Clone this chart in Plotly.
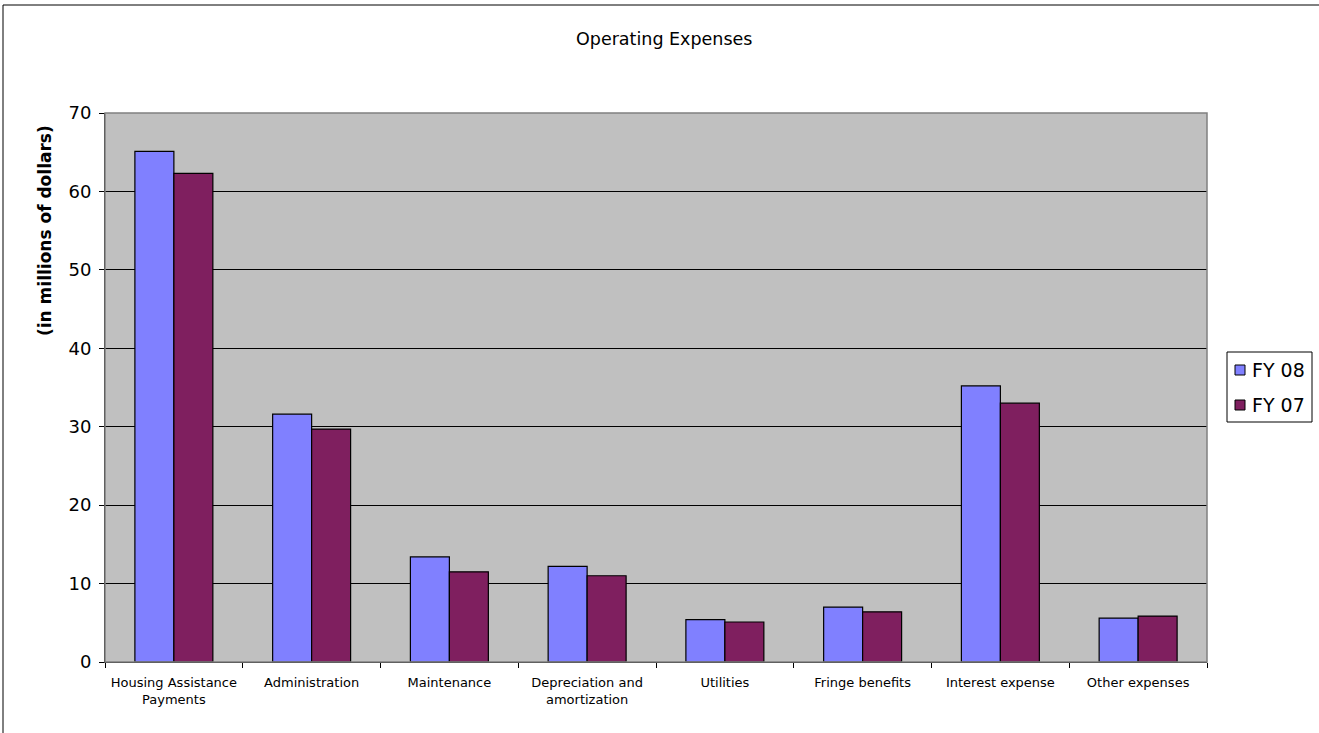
import plotly.graph_objects as go

categories = ["Housing Assistance<br>Payments", "Administration", "Maintenance",
              "Depreciation and<br>amortization", "Utilities", "Fringe benefits",
              "Interest expense", "Other expenses"]
fy08 = [65.1, 31.6, 13.4, 12.2, 5.4, 7.0, 35.2, 5.6]
fy07 = [62.3, 29.7, 11.5, 11.0, 5.1, 6.4, 33.0, 5.85]
series_names = ["FY 08", "FY 07"]
series_colors = ["#8080FF", "#7F1F5F"]
y_ticks = [0, 10, 20, 30, 40, 50, 60, 70]

FONT = "DejaVu Sans, Arial, sans-serif"

fig = go.Figure()
for name, vals, col in zip(series_names, [fy08, fy07], series_colors):
    fig.add_trace(go.Bar(x=categories, y=vals, name=name,
                         marker=dict(color=col, line=dict(color="black", width=1.2))))

W, H = 1319, 733
L, R, T, B = 105, 112, 113, 71
pw, ph = W - L - R, H - T - B


def px(x):
    return (x - L) / pw


def py(y):
    return (H - B - y) / ph


fig.update_layout(
    width=W, height=H,
    margin=dict(l=L, r=R, t=T, b=B, pad=0, autoexpand=False),
    paper_bgcolor="white", plot_bgcolor="#C0C0C0",
    barmode="group", bargap=0.434, bargroupgap=0,
    font=dict(family=FONT, color="black"),
    showlegend=False,
    xaxis=dict(tickson="boundaries", ticks="outside", ticklen=5, tickcolor="black",
               showline=True, linecolor="black", linewidth=1,
               tickfont=dict(size=13, family=FONT), ticklabelstandoff=8,
               showgrid=False),
    yaxis=dict(range=[0, 70], tickvals=y_ticks, ticks="outside", ticklen=5,
               tickcolor="black", showline=True, linecolor="black", linewidth=1,
               showgrid=True, gridcolor="black", gridwidth=1, zeroline=False,
               tickfont=dict(size=18, family=FONT), ticklabelstandoff=4),
)

# chart title
fig.add_annotation(text="Operating Expenses", xref="paper", yref="paper",
                   x=px(664), y=py(39), xanchor="center", yanchor="middle",
                   showarrow=False, font=dict(size=17.5, family=FONT))
# y-axis title
fig.add_annotation(text="<b>(in millions of dollars)</b>", xref="paper", yref="paper",
                   x=px(45), y=py(231), xanchor="center", yanchor="middle",
                   textangle=-90, showarrow=False, font=dict(size=17, family=FONT))

# legend (box, swatches, labels)
fig.add_shape(type="rect", xref="paper", yref="paper",
              x0=px(1227), x1=px(1312), y0=py(422), y1=py(352),
              line=dict(color="black", width=1), fillcolor="white", layer="above")
for i, (name, col) in enumerate(zip(series_names, series_colors)):
    yc = 370 + 35 * i
    fig.add_shape(type="rect", xref="paper", yref="paper",
                  x0=px(1235), x1=px(1245), y0=py(yc + 5), y1=py(yc - 5),
                  line=dict(color="black", width=1), fillcolor=col, layer="above")
    fig.add_annotation(text=name, xref="paper", yref="paper", x=px(1250), y=py(yc),
                       xanchor="left", yanchor="middle", showarrow=False,
                       font=dict(size=19, family=FONT))

# plot-area border (gray) and outer chart border (black)
fig.add_shape(type="rect", xref="paper", yref="paper", x0=0, x1=1, y0=0, y1=1,
              line=dict(color="#808080", width=1.5), layer="above")
fig.add_shape(type="rect", xref="paper", yref="paper",
              x0=px(3), x1=px(1330), y0=py(750), y1=py(5),
              line=dict(color="black", width=1), layer="above")

fig.write_html("out.html")
